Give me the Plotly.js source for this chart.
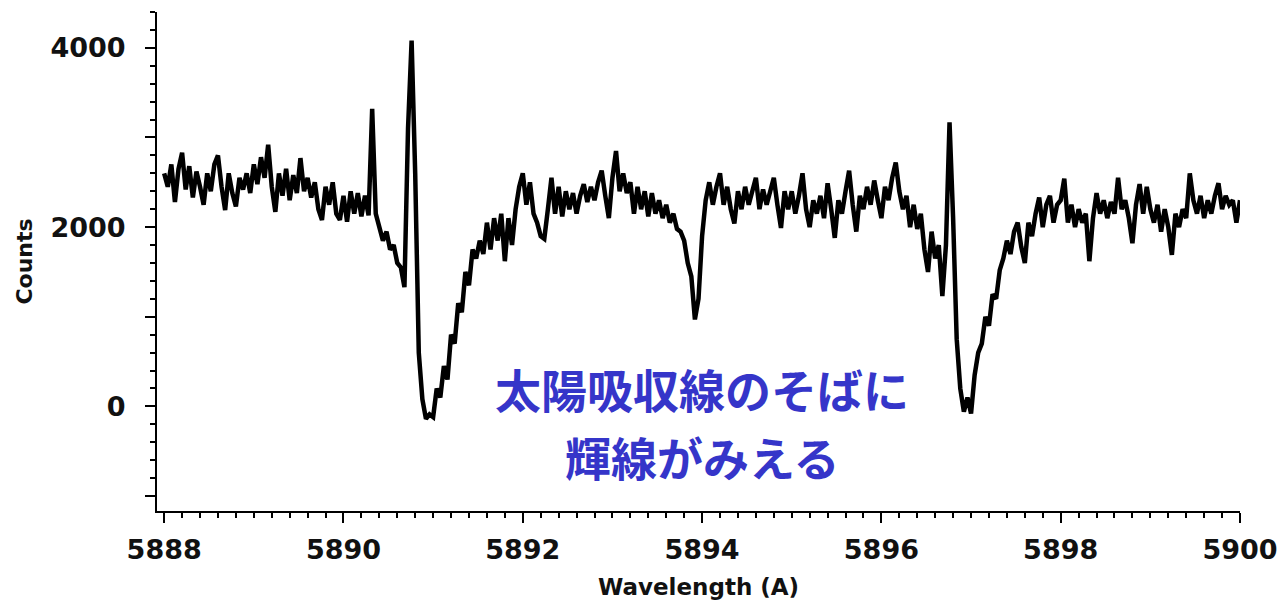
<!DOCTYPE html>
<html>
<head>
<meta charset="utf-8">
<script src="https://cdn.plot.ly/plotly-3.0.1.min.js"></script>
<style>html,body{margin:0;padding:0;background:#fff;}#chart{width:1278px;height:604px;}</style>
</head>
<body>
<div id="chart"></div>
<script>
// Wavelength grid (Å): first sample and spacing
const waveStart = 5888.0;
const waveStep = 0.04;

// Counts, one per 0.04 Å, 5888.00 ... 5900.00
const counts5888 = [2600,2450,2700,2280,2650,2830,2420,2680,2330,2620,2450,2250,2600,2400,2700,2800,2450,2190,2600,2380,2230,2550,2420,2600,2380];
const counts5889 = [2700,2480,2780,2550,2920,2450,2170,2600,2350,2650,2300,2580,2380,2770,2400,2550,2330,2500,2200,2080,2450,2250,2500,2150,2080];
const counts5890 = [2350,2060,2400,2150,2380,2120,2350,2130,3320,2150,2000,1850,1950,1750,1800,1600,1550,1330,3100,4080,2600,600,80,-140,-90];
const counts5891 = [-120,200,100,450,300,800,700,1150,1050,1500,1350,1750,1650,1850,1700,2050,1750,2100,1850,2150,1620,2100,1800,2200,2450];
const counts5892 = [2600,2250,2500,2150,2050,1900,1870,2200,2550,2150,2450,2120,2400,2200,2380,2150,2350,2480,2280,2450,2300,2500,2630,2350,2100];
const counts5893 = [2550,2850,2400,2600,2380,2500,2150,2450,2200,2400,2120,2380,2150,2300,2100,2250,2050,2150,1980,1950,1850,1600,1450,970,1200];
const counts5894 = [1900,2300,2500,2250,2450,2600,2250,2450,2200,2040,2400,2200,2450,2250,2400,2550,2200,2420,2250,2400,2550,2250,1990,2400,2200];
const counts5895 = [2400,2150,2350,2600,2200,2000,2300,2150,2350,2100,2490,2200,1880,2300,2150,2400,2630,2250,1950,2350,2200,2450,2250,2520,2300];
const counts5896 = [2100,2450,2300,2550,2720,2400,2200,2350,2000,2250,1980,2150,1750,1500,1950,1650,1800,1230,1800,3170,2100,750,200,-60,100];
const counts5897 = [-80,350,600,700,1000,900,1250,1200,1520,1650,1850,1700,1950,2050,1780,1600,2050,1900,2150,2330,2000,2250,2350,2050,2250];
const counts5898 = [2300,2540,2050,2250,2000,2200,2050,2150,1620,2100,2380,2150,2300,2100,2280,2150,2550,2200,2300,2100,1820,2250,2480,2150,2450];
const counts5899 = [2200,2050,2250,1950,2200,2000,1690,2150,2000,2200,2100,2600,2300,2150,2350,2100,2300,2150,2350,2490,2200,2350,2250,2300,2050,2300];

const counts = [].concat(counts5888, counts5889, counts5890, counts5891, counts5892, counts5893,
                         counts5894, counts5895, counts5896, counts5897, counts5898, counts5899);

// Axis ticks
const xTickVals = [5888, 5890, 5892, 5894, 5896, 5898, 5900];
const xTickText = ['5888', '5890', '5892', '5894', '5896', '5898', '5900'];
const yTickVals = [-1000, 0, 1000, 2000, 3000, 4000];
const yTickText = ['', '0', '', '2000', '', '4000'];

// Texts
const xTitle = 'Wavelength (A)';
const yTitle = 'Counts';
const noteLine1 = '太陽吸収線のそばに';
const noteLine2 = '輝線がみえる';

const tickFont = {family: 'DejaVu Sans', size: 27, color: '#111', weight: 'bold'};
const noteFont = {family: 'Noto Sans CJK JP', size: 46, color: '#3535c9', weight: 'bold'};

const trace = {
  type: 'scatter',
  mode: 'lines',
  x0: waveStart,
  dx: waveStep,
  y: counts,
  line: {color: '#000', width: 4.5, simplify: false},
  hoverinfo: 'skip'
};

const layout = {
  width: 1278,
  height: 604,
  margin: {l: 157, r: 38, t: 12, b: 93},
  paper_bgcolor: '#fff',
  plot_bgcolor: '#fff',
  showlegend: false,
  xaxis: {
    range: [5887.92, 5900],
    showgrid: false,
    zeroline: false,
    showline: true,
    linecolor: '#000',
    linewidth: 2,
    ticks: 'outside',
    ticklen: 10,
    tickwidth: 2,
    tickcolor: '#000',
    tickvals: xTickVals,
    ticktext: xTickText,
    tickfont: tickFont,
    ticklabelstandoff: 4,
    minor: {dtick: 0.2, tick0: 5888, ticks: 'outside', ticklen: 5, tickwidth: 2, tickcolor: '#000', showgrid: false},
    title: {text: xTitle, font: {family: 'DejaVu Sans', size: 23, color: '#111', weight: 'bold'}, standoff: 14}
  },
  yaxis: {
    range: [-1167, 4400],
    showgrid: false,
    zeroline: false,
    showline: true,
    linecolor: '#000',
    linewidth: 2,
    ticks: 'outside',
    ticklen: 10,
    tickwidth: 2,
    tickcolor: '#000',
    tickvals: yTickVals,
    ticktext: yTickText,
    tickfont: tickFont,
    ticklabelstandoff: 14,
    minor: {dtick: 200, tick0: 0, ticks: 'outside', ticklen: 5, tickwidth: 2, tickcolor: '#000', showgrid: false},
    title: {text: yTitle, font: {family: 'DejaVu Sans', size: 22, color: '#111', weight: 'bold'}, standoff: 12}
  },
  annotations: [
    {x: 5894, y: 200, xref: 'x', yref: 'y', text: noteLine1, showarrow: false,
     xanchor: 'center', yanchor: 'middle', font: noteFont},
    {x: 5894, y: -548, xref: 'x', yref: 'y', text: noteLine2, showarrow: false,
     xanchor: 'center', yanchor: 'middle', font: noteFont}
  ]
};

Plotly.newPlot('chart', [trace], layout, {displayModeBar: false, staticPlot: true});
</script>
</body>
</html>
